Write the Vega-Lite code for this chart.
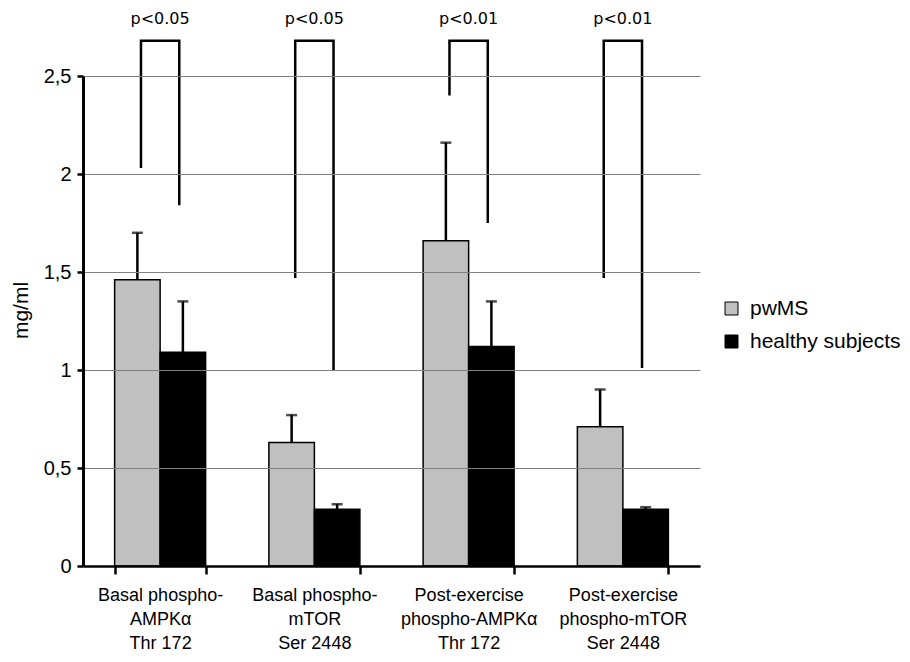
{
  "$schema": "https://vega.github.io/schema/vega-lite/v6.json",
  "width": 617,
  "height": 490,
  "autosize": "none",
  "padding": {"left": 83, "top": 76, "right": 210, "bottom": 96},
  "background": "white",
  "config": {
    "view": {"stroke": null},
    "font": "Liberation Sans"
  },
  "datasets": {
    "bars": [
      {"cat": "Basal phospho-|AMPKα|Thr 172", "group": "pwMS", "value": 1.46, "err": 1.70},
      {"cat": "Basal phospho-|AMPKα|Thr 172", "group": "healthy subjects", "value": 1.09, "err": 1.35},
      {"cat": "Basal phospho-|mTOR|Ser 2448", "group": "pwMS", "value": 0.63, "err": 0.77},
      {"cat": "Basal phospho-|mTOR|Ser 2448", "group": "healthy subjects", "value": 0.29, "err": 0.315},
      {"cat": "Post-exercise|phospho-AMPKα|Thr 172", "group": "pwMS", "value": 1.66, "err": 2.16},
      {"cat": "Post-exercise|phospho-AMPKα|Thr 172", "group": "healthy subjects", "value": 1.12, "err": 1.35},
      {"cat": "Post-exercise|phospho-mTOR|Ser 2448", "group": "pwMS", "value": 0.71, "err": 0.90},
      {"cat": "Post-exercise|phospho-mTOR|Ser 2448", "group": "healthy subjects", "value": 0.29, "err": 0.30}
    ],
    "brackets": [
      {"cat": "Basal phospho-|AMPKα|Thr 172", "side": "L", "ord": 1, "value": 2.03},
      {"cat": "Basal phospho-|AMPKα|Thr 172", "side": "L", "ord": 2, "value": 2.68},
      {"cat": "Basal phospho-|AMPKα|Thr 172", "side": "R", "ord": 3, "value": 2.68},
      {"cat": "Basal phospho-|AMPKα|Thr 172", "side": "R", "ord": 4, "value": 1.84},
      {"cat": "Basal phospho-|mTOR|Ser 2448", "side": "L", "ord": 1, "value": 1.47},
      {"cat": "Basal phospho-|mTOR|Ser 2448", "side": "L", "ord": 2, "value": 2.68},
      {"cat": "Basal phospho-|mTOR|Ser 2448", "side": "R", "ord": 3, "value": 2.68},
      {"cat": "Basal phospho-|mTOR|Ser 2448", "side": "R", "ord": 4, "value": 1.0},
      {"cat": "Post-exercise|phospho-AMPKα|Thr 172", "side": "L", "ord": 1, "value": 2.40},
      {"cat": "Post-exercise|phospho-AMPKα|Thr 172", "side": "L", "ord": 2, "value": 2.68},
      {"cat": "Post-exercise|phospho-AMPKα|Thr 172", "side": "R", "ord": 3, "value": 2.68},
      {"cat": "Post-exercise|phospho-AMPKα|Thr 172", "side": "R", "ord": 4, "value": 1.75},
      {"cat": "Post-exercise|phospho-mTOR|Ser 2448", "side": "L", "ord": 1, "value": 1.47},
      {"cat": "Post-exercise|phospho-mTOR|Ser 2448", "side": "L", "ord": 2, "value": 2.68},
      {"cat": "Post-exercise|phospho-mTOR|Ser 2448", "side": "R", "ord": 3, "value": 2.68},
      {"cat": "Post-exercise|phospho-mTOR|Ser 2448", "side": "R", "ord": 4, "value": 1.01}
    ],
    "pvals": [
      {"cat": "Basal phospho-|AMPKα|Thr 172", "label": "p<0.05"},
      {"cat": "Basal phospho-|mTOR|Ser 2448", "label": "p<0.05"},
      {"cat": "Post-exercise|phospho-AMPKα|Thr 172", "label": "p<0.01"},
      {"cat": "Post-exercise|phospho-mTOR|Ser 2448", "label": "p<0.01"}
    ]
  },
  "resolve": {"scale": {"xOffset": "independent"}},
  "layer": [
    {
      "data": {"name": "bars"},
      "mark": {"type": "bar", "stroke": "black", "strokeWidth": 1.5},
      "encoding": {
        "x": {
          "field": "cat", "type": "nominal",
          "scale": {
            "domain": ["Basal phospho-|AMPKα|Thr 172", "Basal phospho-|mTOR|Ser 2448", "Post-exercise|phospho-AMPKα|Thr 172", "Post-exercise|phospho-mTOR|Ser 2448"],
            "paddingInner": 0.41, "paddingOuter": 0.205
          },
          "axis": {
            "title": null,
            "labelExpr": "datum.value ? split(datum.value, '|') : ''",
            "tickBand": "extent", "labelAngle": 0, "labelFontSize": 18, "labelLineHeight": 24, "labelColor": "black",
            "labelPadding": 12, "labelLimit": 0, "labelOverlap": false, "grid": false,
            "domain": true, "ticks": true,
            "domainColor": "black", "domainWidth": 2.5, "tickColor": "black", "tickWidth": 2.5, "tickSize": 8,
            "zindex": 2
          }
        },
        "xOffset": {"field": "group", "type": "nominal", "scale": {"domain": ["pwMS", "healthy subjects"], "paddingInner": 0, "paddingOuter": 0}},
        "y": {
          "field": "value", "type": "quantitative",
          "scale": {"domain": [0, 2.5], "nice": false},
          "axis": {
            "values": [0, 0.5, 1, 1.5, 2, 2.5],
            "labelExpr": "replace(toString(datum.value), '.', ',')",
            "grid": true, "gridColor": "#808080", "gridWidth": 1,
            "domain": true, "ticks": true,
            "domainColor": "black", "domainWidth": 3, "tickColor": "black", "tickWidth": 2.5, "tickSize": 6,
            "labelFontSize": 20, "labelColor": "black", "labelPadding": 6,
            "title": "mg/ml", "titleFontSize": 21, "titleFontWeight": "normal", "titleColor": "black",
            "titleX": -62, "titleY": 234, "titleAngle": -90, "titleBaseline": "middle", "titleAlign": "center",
            "zindex": 2
          }
        },
        "color": {
          "field": "group", "type": "nominal",
          "scale": {"domain": ["pwMS", "healthy subjects"], "range": ["#c0c0c0", "#000000"]},
          "legend": {
            "orient": "none", "legendX": 638, "legendY": 222, "title": null,
            "symbolType": "square", "symbolSize": 169, "symbolStrokeColor": "black", "symbolStrokeWidth": 1,
            "labelFontSize": 21, "labelColor": "black", "labelOffset": 8, "rowPadding": 11
          }
        }
      }
    },
    {
      "data": {"name": "bars"},
      "mark": {"type": "rule", "color": "black", "strokeWidth": 2.5},
      "encoding": {
        "x": {"field": "cat", "type": "nominal"},
        "xOffset": {"field": "group", "type": "nominal", "scale": {"domain": ["pwMS", "healthy subjects"], "paddingInner": 0, "paddingOuter": 0}},
        "y": {"field": "value", "type": "quantitative"},
        "y2": {"field": "err"}
      }
    },
    {
      "data": {"name": "bars"},
      "mark": {"type": "tick", "color": "black", "thickness": 2.5, "size": 11, "orient": "horizontal"},
      "encoding": {
        "x": {"field": "cat", "type": "nominal"},
        "xOffset": {"field": "group", "type": "nominal", "scale": {"domain": ["pwMS", "healthy subjects"], "paddingInner": 0, "paddingOuter": 0}},
        "y": {"field": "err", "type": "quantitative"}
      }
    },
    {
      "data": {"name": "brackets"},
      "mark": {"type": "line", "color": "black", "strokeWidth": 2.5, "strokeJoin": "miter", "strokeCap": "butt"},
      "encoding": {
        "x": {"field": "cat", "type": "nominal"},
        "xOffset": {"field": "side", "type": "nominal", "scale": {"type": "point", "domain": ["L", "R"], "padding": 0.688}},
        "y": {"field": "value", "type": "quantitative"},
        "detail": {"field": "cat"},
        "order": {"field": "ord"}
      }
    },
    {
      "data": {"name": "pvals"},
      "mark": {"type": "text", "font": "DejaVu Sans", "fontSize": 16, "baseline": "middle", "color": "black"},
      "encoding": {
        "x": {"field": "cat", "type": "nominal"},
        "y": {"datum": 2.79, "type": "quantitative"},
        "text": {"field": "label"}
      }
    }
  ]
}
